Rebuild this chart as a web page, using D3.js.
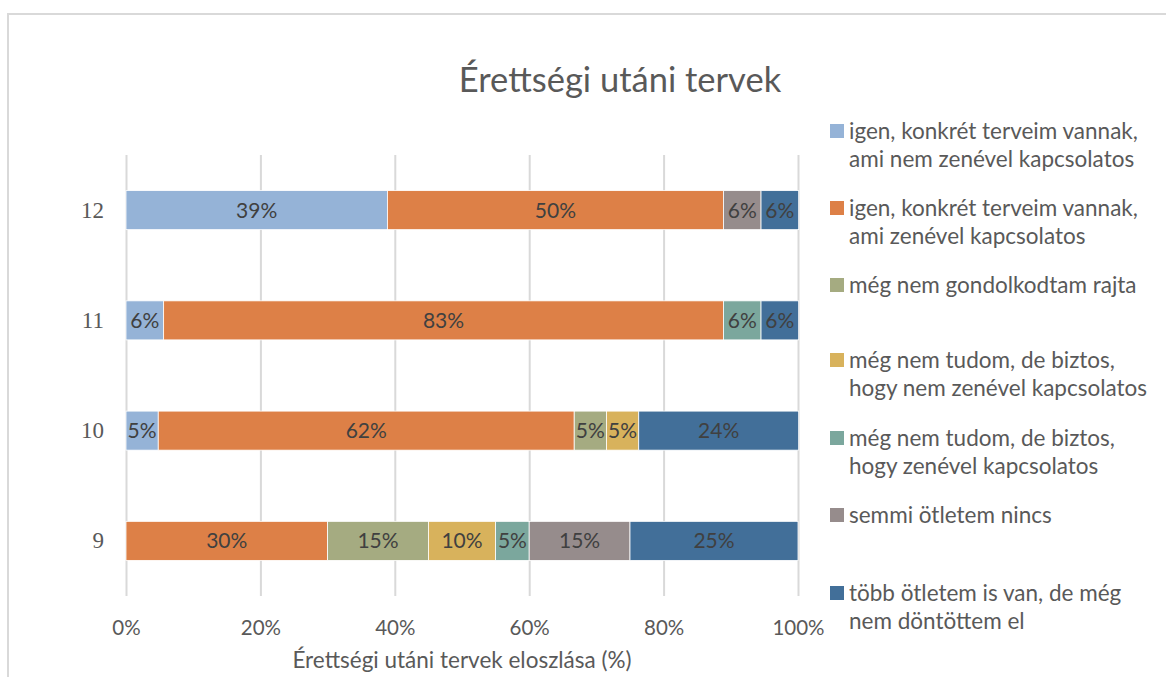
<!DOCTYPE html>
<html>
<head>
<meta charset="utf-8">
<script src="https://cdn.jsdelivr.net/npm/d3@7"></script>
<style>
  body { margin: 0; background: #fff; }
  svg { display: block; }
</style>
</head>
<body>
<svg id="chart" width="1166" height="677"></svg>
<script>
// grades, top to bottom
const grades = ['12', '11', '10', '9']

const seriesNames = [
  'igen, konkrét terveim vannak, ami nem zenével kapcsolatos',
  'igen, konkrét terveim vannak, ami zenével kapcsolatos',
  'még nem gondolkodtam rajta',
  'még nem tudom, de biztos, hogy nem zenével kapcsolatos',
  'még nem tudom, de biztos, hogy zenével kapcsolatos',
  'semmi ötletem nincs',
  'több ötletem is van, de még nem döntöttem el'
]

// legend text split into lines as in the picture
const legendLines = [
  ['igen, konkrét terveim vannak,', 'ami nem zenével kapcsolatos'],
  ['igen, konkrét terveim vannak,', 'ami zenével kapcsolatos'],
  ['még nem gondolkodtam rajta'],
  ['még nem tudom, de biztos,', 'hogy nem zenével kapcsolatos'],
  ['még nem tudom, de biztos,', 'hogy zenével kapcsolatos'],
  ['semmi ötletem nincs'],
  ['több ötletem is van, de még', 'nem döntöttem el']
]

const colors = ['#95b3d7', '#dd8047', '#a5ab81', '#d8b25c', '#7ba79d', '#968c8c', '#426f99']

// percentages per grade, one array per series (same order as grades)
const s1 = [38.9, 5.6, 4.8, 0]
const s2 = [50.0, 83.3, 61.9, 30]
const s3 = [0, 0, 4.8, 15]
const s4 = [0, 0, 4.8, 10]
const s5 = [0, 5.6, 0, 5]
const s6 = [5.6, 0, 0, 15]
const s7 = [5.6, 5.6, 23.8, 25]
const seriesValues = [s1, s2, s3, s4, s5, s6, s7]

const xTicks = [0, 20, 40, 60, 80, 100]

const svg = d3.select('#chart')
const width = 1166
const height = 677
const margin = {left: 126, right: 368, top: 155, bottom: 81}
const font = 'Lato, "Open Sans", sans-serif'

// outer frame (right and bottom edges fall outside the picture)
svg.append('rect')
   .attr('x', 8)
   .attr('y', 14)
   .attr('width', 1170)
   .attr('height', 700)
   .attr('fill', 'none')
   .attr('stroke', '#d9d9d9')
   .attr('stroke-width', 2)

const rows = grades.map((g, i) => {
  const row = {grade: g}
  seriesNames.forEach((n, j) => { row[n] = seriesValues[j][i] })
  return row
})

const stacked = d3.stack().keys(seriesNames)(rows)

const xScale = d3.scaleLinear()
                 .domain([0, 100])
                 .range([margin.left, width - margin.right])

const yScale = d3.scaleBand()
                 .domain(grades)
                 .range([margin.top, height - margin.bottom])
                 .paddingInner(0.646)
                 .paddingOuter(0.323)

const color = d3.scaleOrdinal().domain(seriesNames).range(colors)

// vertical gridlines
const xGrid = d3.axisBottom(xScale)
                .tickValues(xTicks)
                .tickSize(-(height - margin.bottom - margin.top))
                .tickFormat('')
svg.append('g')
   .attr('class', 'grid')
   .attr('transform', 'translate(0,' + (height - margin.bottom) + ')')
   .call(xGrid)
   .call(g => g.select('.domain').remove())
   .call(g => g.selectAll('line').attr('stroke', '#d9d9d9').attr('stroke-width', 2))

// x axis labels
const xAxis = d3.axisBottom(xScale)
                .tickValues(xTicks)
                .tickSize(0)
                .tickPadding(24)
                .tickFormat(d => d + '%')
svg.append('g')
   .attr('transform', 'translate(0,' + (height - margin.bottom) + ')')
   .call(xAxis)
   .call(g => g.select('.domain').remove())
   .call(g => g.selectAll('text')
               .attr('fill', '#595959')
               .style('font-family', font)
               .style('font-size', '20.5px'))

// y axis labels
const yAxis = d3.axisLeft(yScale).tickSize(0).tickPadding(22)
svg.append('g')
   .attr('transform', 'translate(' + margin.left + ',0)')
   .call(yAxis)
   .call(g => g.select('.domain').remove())
   .call(g => g.selectAll('text')
               .attr('fill', '#595959')
               .style('font-family', '"Liberation Serif", "DejaVu Serif", serif')
               .style('font-size', '23px'))

// bars
const layers = svg.append('g')
                  .selectAll('g')
                  .data(stacked)
                  .enter()
                  .append('g')
                  .attr('fill', d => color(d.key))

layers.selectAll('rect')
      .data(d => d.filter(p => p[1] - p[0] > 0))
      .enter()
      .append('rect')
      .attr('x', p => xScale(p[0]))
      .attr('y', p => yScale(p.data.grade))
      .attr('width', p => xScale(p[1]) - xScale(p[0]))
      .attr('height', yScale.bandwidth())
      .attr('stroke', '#ffffff')
      .attr('stroke-width', 0.8)

// data labels
layers.selectAll('text')
      .data(d => d.filter(p => p[1] - p[0] > 0))
      .enter()
      .append('text')
      .attr('x', p => (xScale(p[0]) + xScale(p[1])) / 2)
      .attr('y', p => yScale(p.data.grade) + yScale.bandwidth() / 2)
      .attr('dy', '0.36em')
      .attr('text-anchor', 'middle')
      .attr('fill', '#404040')
      .style('font-family', font)
      .style('font-size', '21px')
      .text(p => Math.round(p[1] - p[0]) + '%')

// title
svg.append('text')
   .attr('x', 620)
   .attr('y', 92)
   .attr('text-anchor', 'middle')
   .attr('fill', '#595959')
   .style('font-family', font)
   .style('font-size', '34.5px')
   .text('Érettségi utáni tervek')

// x axis title
svg.append('text')
   .attr('x', (margin.left + width - margin.right) / 2)
   .attr('y', 668)
   .attr('text-anchor', 'middle')
   .attr('fill', '#595959')
   .style('font-family', font)
   .style('font-size', '22.5px')
   .text('Érettségi utáni tervek eloszlása (%)')

// legend
const legendY = [131, 208, 285, 360, 438, 515, 593]
const legend = svg.append('g')
                  .selectAll('g')
                  .data(seriesNames)
                  .enter()
                  .append('g')
                  .attr('transform', (d, i) => 'translate(830,' + legendY[i] + ')')

legend.append('rect')
      .attr('x', 0)
      .attr('y', -7)
      .attr('width', 14)
      .attr('height', 14)
      .attr('fill', d => color(d))

legend.append('text')
      .attr('fill', '#595959')
      .style('font-family', font)
      .style('font-size', '22.5px')
      .selectAll('tspan')
      .data((d, i) => legendLines[i])
      .enter()
      .append('tspan')
      .attr('x', 19)
      .attr('y', (l, k) => k * 28)
      .attr('dy', '0.36em')
      .text(l => l)
</script>
</body>
</html>
